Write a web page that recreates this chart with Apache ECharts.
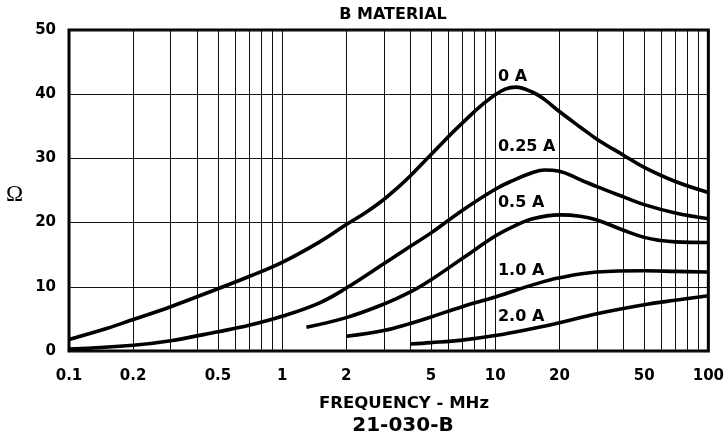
<!DOCTYPE html>
<html><head><meta charset="utf-8">
<script src="https://cdn.jsdelivr.net/npm/echarts@6/dist/echarts.min.js"></script>
<style>html,body{margin:0;padding:0;background:#fff}#c{width:727px;height:437px}</style>
</head><body><div id="c"></div>
<script>
// ---- data ----
const freq0A   = [0.1,0.15,0.2,0.3,0.5,0.7,1,1.5,2,2.5,3,3.5,4,5,7,10,12.5,15,17,20,25,30,40,50,70,100];
const ohm0A    = [1.8,3.5,4.9,6.9,9.7,11.6,13.8,17.0,19.7,21.7,23.6,25.5,27.3,30.6,35.5,39.9,41.1,40.3,39.2,37.3,34.9,33.0,30.5,28.6,26.4,24.7];
const freq025A = [0.1,0.2,0.3,0.5,0.7,1,1.5,2,3,4,5,7,10,12,15,17,20,25,30,40,50,70,100];
const ohm025A  = [0.3,0.9,1.6,3.0,4.0,5.4,7.5,9.8,13.6,16.3,18.4,21.9,25.2,26.5,27.8,28.2,28.0,26.7,25.6,24.0,22.8,21.5,20.6];
const freq05A  = [1.3,2,3,4,5,7,10,12,15,20,25,30,40,50,60,70,100];
const ohm05A   = [3.7,5.2,7.3,9.2,11.1,14.4,17.9,19.3,20.6,21.2,21.0,20.4,18.8,17.7,17.2,17.0,16.9];
const freq1A   = [2,3,4,5,7,10,15,20,30,50,70,100];
const ohm1A    = [2.3,3.2,4.3,5.3,6.9,8.4,10.3,11.4,12.3,12.5,12.4,12.3];
const freq2A   = [4,5,7,10,15,20,30,50,70,100];
const ohm2A    = [1.1,1.3,1.7,2.4,3.5,4.4,5.8,7.2,7.9,8.6];

const curveNames = ['0 A','0.25 A','0.5 A','1.0 A','2.0 A'];
const labelFreq  = [10.3,10.3,10.3,10.3,10.3];
const labelOhm   = [42.7,31.8,23.1,12.5,5.3];

const xTickValues = [0.1,0.2,0.5,1,2,5,10,20,50,100];
const xGridValues = [0.2,0.3,0.4,0.5,0.6,0.7,0.8,0.9,1,2,3,4,5,6,7,8,9,10,20,30,40,50,60,70,80,90];
const yMin = 0, yMax = 50, yStep = 10;

const chartTitle = 'B MATERIAL';
const xTitle = 'FREQUENCY - MHz';
const figCode = '21-030-B';
const yTitle = 'Ω';

// ---- chart ----
const FONT = 'DejaVu Sans';
const pairs = (f, v) => f.map((x, i) => [x, v[i]]);
const curves = [pairs(freq0A, ohm0A), pairs(freq025A, ohm025A), pairs(freq05A, ohm05A), pairs(freq1A, ohm1A), pairs(freq2A, ohm2A)];

const chart = echarts.init(document.getElementById('c'), null, {renderer: 'canvas'});
const series = curves.map((d, i) => ({
  name: curveNames[i], type: 'line', data: d, smooth: 0.4, symbol: 'none',
  lineStyle: {color: '#000', width: 3.6}, z: 5, silent: true
}));
series.push({
  type: 'line', data: [], silent: true,
  markLine: {
    silent: true, symbol: 'none', animation: false,
    label: {show: false},
    lineStyle: {color: '#111', width: 1, type: 'solid'},
    data: xGridValues.map(v => ({xAxis: v}))
  }
});
series.push({
  type: 'scatter', symbolSize: 0, silent: true, z: 6,
  itemStyle: {opacity: 1},
  data: labelFreq.map((f, i) => ({value: [f, labelOhm[i]], name: curveNames[i]})),
  label: {show: true, position: 'right', distance: 0, formatter: p => p.name, opacity: 1,
          color: '#000', fontFamily: FONT, fontWeight: 'bold', fontSize: 16}
});

chart.setOption({
  animation: false,
  backgroundColor: '#fff',
  grid: {left: 69, right: 17, top: 30, bottom: 86, show: true, borderColor: '#000', borderWidth: 3, containLabel: false},
  xAxis: {
    type: 'log', logBase: 10, min: 0.1, max: 100,
    axisLine: {show: false}, axisTick: {show: false},
    splitLine: {show: false},
    axisLabel: {customValues: xTickValues, formatter: v => String(v), margin: 18,
                color: '#000', fontFamily: FONT, fontWeight: 'bold', fontSize: 15}
  },
  yAxis: {
    type: 'value', min: yMin, max: yMax, interval: yStep,
    name: yTitle, nameLocation: 'middle', nameRotate: 0, nameGap: 46,
    nameTextStyle: {fontFamily: 'Liberation Serif', fontSize: 23, color: '#000', verticalAlign: 'top', lineHeight: 8},
    axisLine: {show: false}, axisTick: {show: false},
    splitLine: {show: true, lineStyle: {color: '#111', width: 1}},
    axisLabel: {margin: 13, color: '#000', fontFamily: FONT, fontWeight: 'bold', fontSize: 15}
  },
  graphic: [
    {type: 'text', x: 393, y: 15, style: {text: chartTitle, align: 'center', verticalAlign: 'middle', fill: '#000', font: 'bold 16px "DejaVu Sans"'}},
    {type: 'text', x: 404, y: 404, style: {text: xTitle, align: 'center', verticalAlign: 'middle', fill: '#000', font: 'bold 16.5px "DejaVu Sans"'}},
    {type: 'text', x: 403, y: 426, style: {text: figCode, align: 'center', verticalAlign: 'middle', fill: '#000', font: 'bold 20px "DejaVu Sans"'}}
  ],
  series: series
});
</script></body></html>
